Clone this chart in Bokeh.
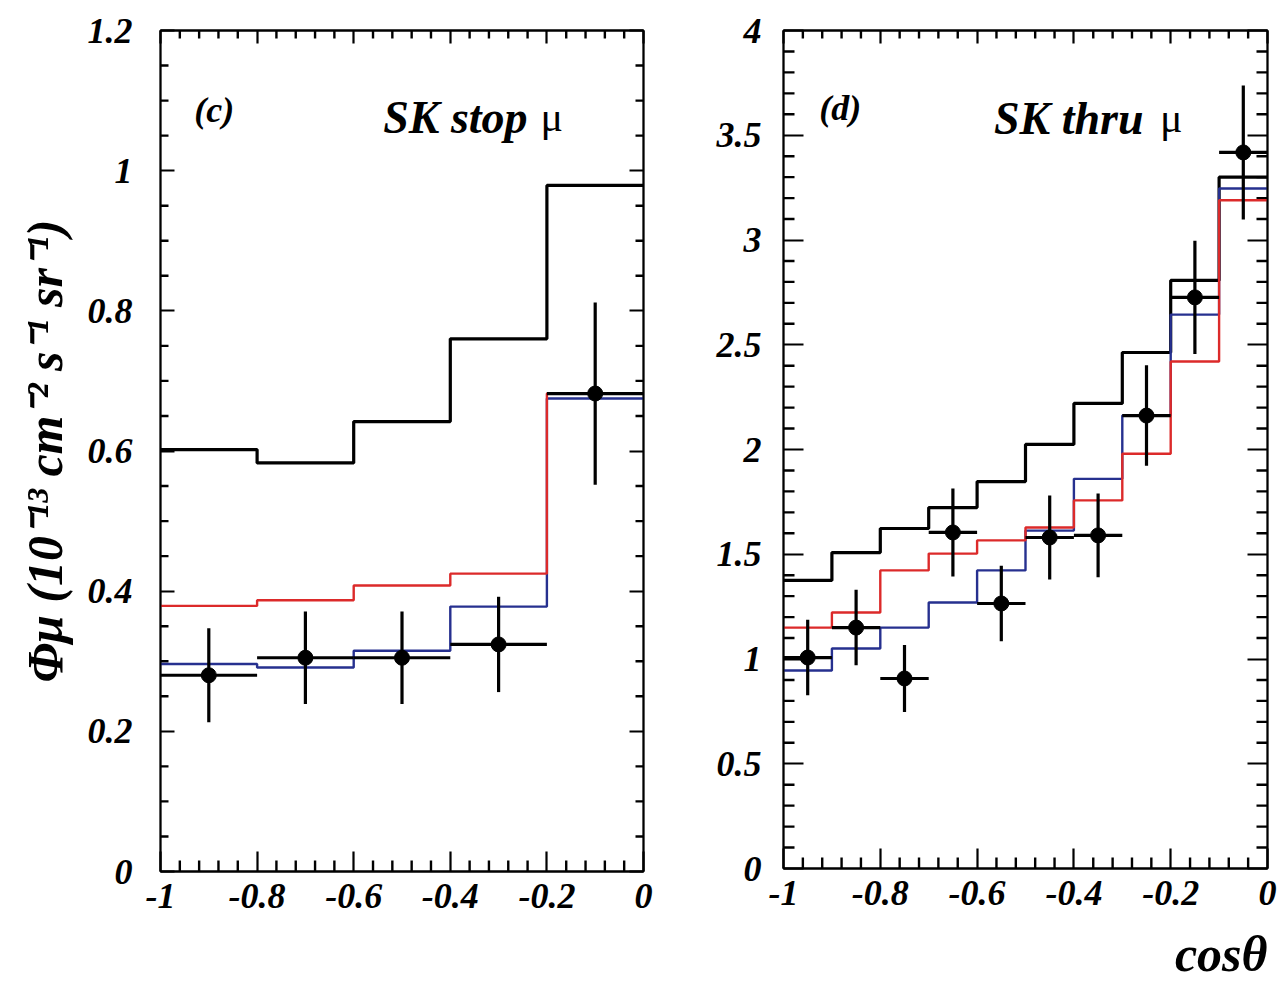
import numpy as np
from bokeh.plotting import figure
from bokeh.layouts import row
from bokeh.models import FixedTicker, LinearAxis, CustomJSTickFormatter, Label, Title, Range1d
from bokeh.embed import file_html
from bokeh.resources import INLINE

# ---------------- Panel (c): SK stopping muons ----------------
stop_edges = [-1.0, -0.8, -0.6, -0.4, -0.2, 0.0]
stop_black = [0.602, 0.583, 0.642, 0.760, 0.979]
stop_red = [0.379, 0.387, 0.408, 0.425, 0.682]
stop_blue = [0.296, 0.291, 0.315, 0.378, 0.675]
stop_x = [-0.9, -0.7, -0.5, -0.3, -0.1]
stop_data = [0.280, 0.305, 0.305, 0.324, 0.682]
stop_err = [0.067, 0.066, 0.066, 0.068, 0.130]
stop_halfwidth = 0.1

# ---------------- Panel (d): SK through-going muons ----------------
thru_edges = [-1.0, -0.9, -0.8, -0.7, -0.6, -0.5, -0.4, -0.3, -0.2, -0.1, 0.0]
thru_black = [1.375, 1.508, 1.623, 1.723, 1.847, 2.024, 2.220, 2.463, 2.807, 3.300]
thru_red = [1.150, 1.222, 1.423, 1.503, 1.566, 1.628, 1.757, 1.980, 2.420, 3.190]
thru_blue = [0.945, 1.050, 1.150, 1.270, 1.423, 1.613, 1.860, 2.162, 2.644, 3.246]
thru_x = [-0.95, -0.85, -0.75, -0.65, -0.55, -0.45, -0.35, -0.25, -0.15, -0.05]
thru_data = [1.007, 1.150, 0.907, 1.604, 1.265, 1.580, 1.590, 2.162, 2.726, 3.418]
thru_err = [0.180, 0.180, 0.160, 0.210, 0.180, 0.200, 0.200, 0.240, 0.270, 0.320]
thru_halfwidth = 0.05

# ---------------- ticks ----------------
x_major = [-1.0, -0.8, -0.6, -0.4, -0.2, 0.0]
x_minor = [-0.96, -0.92, -0.88, -0.84, -0.76, -0.72, -0.68, -0.64, -0.56, -0.52, -0.48, -0.44,
           -0.36, -0.32, -0.28, -0.24, -0.16, -0.12, -0.08, -0.04]
stop_y_major = [0.0, 0.2, 0.4, 0.6, 0.8, 1.0, 1.2]
stop_y_minor = [0.05, 0.1, 0.15, 0.25, 0.3, 0.35, 0.45, 0.5, 0.55, 0.65, 0.7, 0.75,
                0.85, 0.9, 0.95, 1.05, 1.1, 1.15]
thru_y_major = [0.0, 0.5, 1.0, 1.5, 2.0, 2.5, 3.0, 3.5, 4.0]
thru_y_minor = [0.1, 0.2, 0.3, 0.4, 0.6, 0.7, 0.8, 0.9, 1.1, 1.2, 1.3, 1.4, 1.6, 1.7, 1.8, 1.9,
                2.1, 2.2, 2.3, 2.4, 2.6, 2.7, 2.8, 2.9, 3.1, 3.2, 3.3, 3.4, 3.6, 3.7, 3.8, 3.9]

y_label = "Φμ (10⁻¹³ cm⁻² s⁻¹ sr⁻¹)"
x_label = "cosθ"

FONT = "Liberation Serif"
RED = "#dc2a2a"
BLUE = "#26308f"
TICK_FS = "36px"

fmt_num = CustomJSTickFormatter(code="return String(Math.round(tick*10)/10)")


def style_axis(ax, major_in, labels=True, standoff=10):
    ax.major_tick_in = major_in
    ax.major_tick_out = 0
    ax.minor_tick_in = 0
    ax.minor_tick_out = 0
    ax.axis_line_color = "black"
    ax.axis_line_width = 1.8
    ax.major_tick_line_color = "black"
    ax.major_tick_line_width = 2.2
    ax.major_label_standoff = standoff
    if labels:
        ax.formatter = fmt_num
        ax.major_label_text_font = FONT
        ax.major_label_text_font_style = "bold italic"
        ax.major_label_text_font_size = TICK_FS
        ax.major_label_text_color = "black"
    else:
        ax.formatter = CustomJSTickFormatter(code="return ''")
        ax.major_label_standoff = 0


def make_panel(edges, black, red, blue, xs, data, err, hw, y_end, y_major, y_minor,
               ymaj_len, ymin_len, borders, frame_h, y_standoff):
    frame_w = borders[4]
    p = figure(frame_width=frame_w, frame_height=frame_h,
               x_range=Range1d(-1.0, 0.0), y_range=Range1d(0.0, y_end),
               output_backend="svg", toolbar_location=None,
               min_border_left=borders[0], min_border_right=borders[1],
               min_border_top=borders[2], min_border_bottom=borders[3],
               background_fill_color="white", border_fill_color="white")
    p.xgrid.visible = False
    p.ygrid.visible = False
    p.outline_line_color = "black"
    p.outline_line_width = 1.8

    p.xaxis.ticker = FixedTicker(ticks=x_major, minor_ticks=[])
    p.yaxis.ticker = FixedTicker(ticks=y_major, minor_ticks=[])
    style_axis(p.xaxis[0], 20, True, 12)
    style_axis(p.yaxis[0], ymaj_len, True, y_standoff)

    top = LinearAxis(ticker=FixedTicker(ticks=x_major, minor_ticks=[]))
    style_axis(top, 13, False)
    p.add_layout(top, "above")
    right = LinearAxis(ticker=FixedTicker(ticks=y_major, minor_ticks=[]))
    style_axis(right, ymaj_len, False)
    p.add_layout(right, "right")

    # minor ticks drawn inside the frame (length given in pixels, converted via frame size)
    dx = 1.0 / frame_w
    dy = y_end / frame_h
    xm = np.array(x_minor)
    ym = np.array(y_minor)
    x0, x1 = -1.0, 0.0
    tick_kw = dict(line_color="black", line_width=2.4)
    p.segment(x0=xm, y0=np.zeros_like(xm), x1=xm, y1=np.zeros_like(xm) + 11 * dy, **tick_kw)
    p.segment(x0=xm, y0=np.full_like(xm, y_end), x1=xm, y1=np.full_like(xm, y_end) - 8 * dy, **tick_kw)
    p.segment(x0=np.full_like(ym, x0), y0=ym, x1=np.full_like(ym, x0) + ymin_len * dx, y1=ym, **tick_kw)
    p.segment(x0=np.full_like(ym, x1), y0=ym, x1=np.full_like(ym, x1) - ymin_len * dx, y1=ym, **tick_kw)

    p.step(x=edges, y=list(black) + [black[-1]], mode="after", line_color="black", line_width=3.2)
    p.step(x=edges, y=list(blue) + [blue[-1]], mode="after", line_color=BLUE, line_width=2.4)
    p.step(x=edges, y=list(red) + [red[-1]], mode="after", line_color=RED, line_width=2.4)

    xs_a = np.array(xs)
    d = np.array(data)
    e = np.array(err)
    p.segment(x0=xs_a, y0=d - e, x1=xs_a, y1=d + e, line_color="black", line_width=3.2)
    p.segment(x0=xs_a - hw, y0=d, x1=xs_a + hw, y1=d, line_color="black", line_width=3.2)
    p.scatter(x=xs_a, y=d, size=15, marker="circle", fill_color="black", line_color="black")
    return p


p1 = make_panel(stop_edges, stop_black, stop_red, stop_blue, stop_x, stop_data, stop_err,
                stop_halfwidth, 1.2, stop_y_major, stop_y_minor, 14, 8,
                (160, 57, 25, 122, 483), 841, 28)
p1.yaxis[0].axis_label = y_label
p1.yaxis[0].axis_label_text_font = FONT
p1.yaxis[0].axis_label_text_font_style = "bold italic"
p1.yaxis[0].axis_label_text_font_size = "50px"
p1.yaxis[0].axis_label_text_color = "black"
p1.yaxis[0].axis_label_standoff = 12

p2 = make_panel(thru_edges, thru_black, thru_red, thru_blue, thru_x, thru_data, thru_err,
                thru_halfwidth, 4.0, thru_y_major, thru_y_minor, 20, 11,
                (83, 12, 30, 120, 484), 838, 22)
p2.add_layout(Title(text=x_label, align="right", text_font=FONT, text_font_style="bold italic",
                    text_font_size="50px", text_color="black", standoff=32), "below")


def add_text(p, x, y, text, size, style="bold italic", align="left"):
    p.add_layout(Label(x=x, y=y, text=text, text_font=FONT, text_font_style=style,
                       text_font_size=size, text_align=align, text_baseline="alphabetic",
                       text_color="black"))


add_text(p1, -0.93, 1.086, "(c)", "36px")
add_text(p1, -0.240, 1.076, "SK stop", "46px", align="right")
add_text(p1, -0.213, 1.076, "μ", "42px", style="normal")

add_text(p2, -0.926, 3.632, "(d)", "36px")
add_text(p2, -0.256, 3.58, "SK thru", "46px", align="right")
add_text(p2, -0.222, 3.58, "μ", "42px", style="normal")

layout = row(p1, p2)
open("out.html", "w").write(file_html(layout, INLINE))
